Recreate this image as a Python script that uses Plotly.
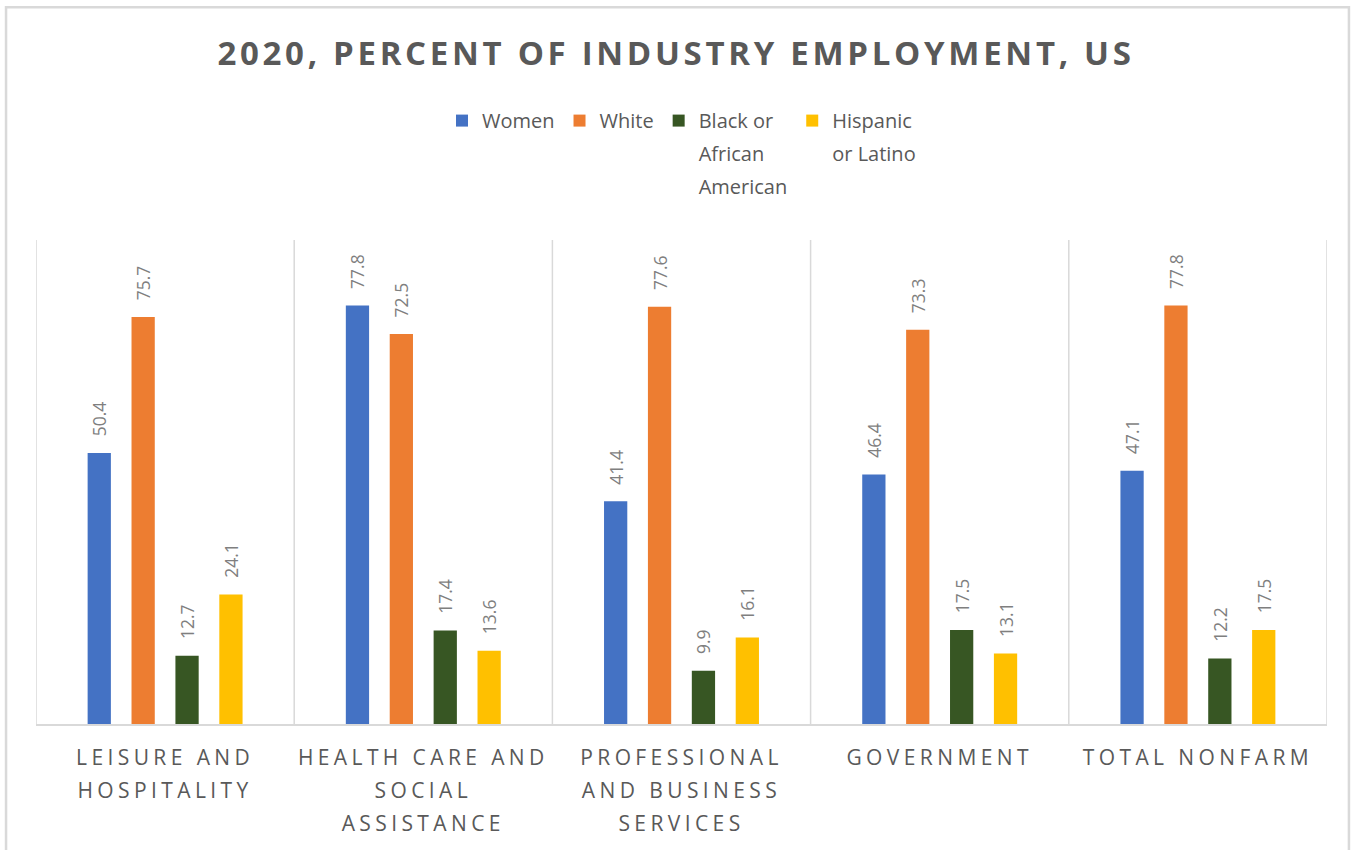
import plotly.graph_objects as go

# Industry categories and share of employment (percent), 2020
industries = [
    "LEISURE AND<br>HOSPITALITY",
    "HEALTH CARE AND<br>SOCIAL<br>ASSISTANCE",
    "PROFESSIONAL<br>AND BUSINESS<br>SERVICES",
    "GOVERNMENT",
    "TOTAL NONFARM",
]
women = [50.4, 77.8, 41.4, 46.4, 47.1]
white = [75.7, 72.5, 77.6, 73.3, 77.8]
black = [12.7, 17.4, 9.9, 17.5, 12.2]
hispanic = [24.1, 13.6, 16.1, 13.1, 17.5]

series_names = ["Women", "White", "Black or<br>African<br>American", "Hispanic<br>or Latino"]
series_values = [women, white, black, hispanic]
series_colors = ["#4472C4", "#ED7D31", "#375623", "#FFC000"]

GRID = "#d9d9d9"
TEXT = "#595959"
FONT = "Open Sans"

fig = go.Figure()
for name, vals, color in zip(series_names, series_values, series_colors):
    fig.add_trace(go.Bar(
        x=industries, y=vals, name=name,
        marker=dict(color=color, line=dict(width=0)),
        texttemplate="\u00a0\u00a0\u00a0%{y:.1f}",
        textposition="outside", textangle=-90, constraintext="none",
        textfont=dict(family=FONT, size=17.5, color="#7f7f7f"),
        cliponaxis=False,
    ))

# Category separators and plot frame
shapes = []
for i in range(len(industries) + 1):
    shapes.append(dict(type="line", xref="x", yref="y", x0=i - 0.5, x1=i - 0.5,
                       y0=0, y1=90, line=dict(color=GRID, width=1.5)))
# Outer chart border
shapes.append(dict(type="rect", xref="paper", yref="paper", x0=-0.0232, x1=1.017,
                   y0=-0.3, y1=1.481, line=dict(color=GRID, width=2.5),
                   layer="below"))

fig.update_layout(
    width=1352, height=850,
    margin=dict(l=36, r=25, t=240, b=126, autoexpand=False),
    paper_bgcolor="white", plot_bgcolor="white",
    barmode="group", bargap=0.32, bargroupgap=0.47,
    title=dict(text="<b>2020, PERCENT OF INDUSTRY EMPLOYMENT, US</b>",
               x=0.5, xanchor="center", y=0.937, yanchor="middle",
               font=dict(family=FONT, size=33, color=TEXT)),
    legend=dict(orientation="h", x=0.5, xanchor="center", y=1.287, yanchor="top",
                font=dict(family=FONT, size=20, color=TEXT),
                itemwidth=30, traceorder="normal", valign="top"),
    xaxis=dict(showgrid=False, zeroline=False, showline=True, linecolor=GRID,
               linewidth=1.5, ticks="", ticklabelstandoff=14,
               tickfont=dict(family=FONT, size=21, color=TEXT),
               range=[-0.5, len(industries) - 0.5]),
    yaxis=dict(range=[0, 90], showgrid=False, zeroline=False, showline=False,
               showticklabels=False, ticks=""),
    shapes=shapes,
    showlegend=True,
)

# Tracked lettering for title and category labels, looser line spacing
# for the multi-line category and legend labels.
post = """
var gd = document.getElementById('{plot_id}');
var st = document.createElement('style');
st.textContent = '.gtitle {letter-spacing: 3.7px;} .xtick text {letter-spacing: 4.4px;} ' +
                 '.legend .scrollbox {clip-path: none !important;}';
document.head.appendChild(st);
function spread() {
  gd.querySelectorAll('.xtick text').forEach(function (t) {
    t.querySelectorAll('tspan.line').forEach(function (l, i) { l.setAttribute('dy', (i * 1.57) + 'em'); });
  });
  gd.querySelectorAll('.legendtext').forEach(function (t) {
    t.querySelectorAll('tspan.line').forEach(function (l, i) { l.setAttribute('dy', (i * 1.65) + 'em'); });
  });
  gd.querySelectorAll('.legend .scrollbox').forEach(function (s) { s.removeAttribute('clip-path'); });
}
spread();
gd.on('plotly_afterplot', spread);
setTimeout(spread, 50);
"""

fig.write_html("out.html", post_script=post)
